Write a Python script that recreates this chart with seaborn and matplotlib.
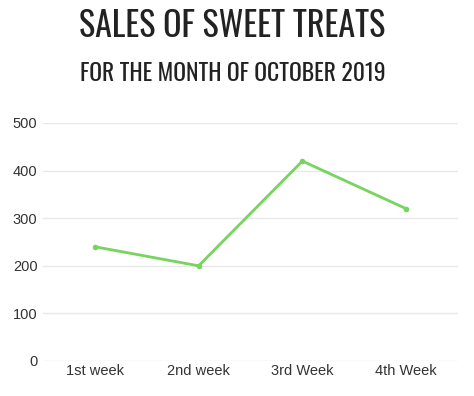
import matplotlib
matplotlib.use("Agg")
import matplotlib.pyplot as plt
import seaborn as sns
import pandas as pd

# datos
semanas = ["1st week", "2nd week", "3rd Week", "4th Week"]
ventas = [240, 200, 420, 320]
ticks_y = [0, 100, 200, 300, 400, 500]

df = pd.DataFrame({"semana": semanas, "ventas": ventas})
df["pos"] = range(len(semanas))

sns.set_theme(style="white")
plt.rcParams["font.family"] = ["Liberation Sans", "DejaVu Sans"]

fig = plt.figure(figsize=(4.74, 3.96), dpi=100)
ax = fig.add_axes([43 / 474, 35 / 396, (458 - 43) / 474, (273 - 35) / 396])

sns.lineplot(data=df, x="pos", y="ventas", ax=ax, color="#77d45c", linewidth=2,
             marker="o", markersize=4, markeredgewidth=0)

ax.set_xlim(-0.5, 3.5)
ax.set_ylim(0, 500)
ax.set_xticks(df["pos"])
ax.set_xticklabels(semanas)
ax.set_yticks(ticks_y)
ax.set_xlabel("")
ax.set_ylabel("")
ax.grid(axis="y", color="#e8e8e8", linewidth=1)
ax.tick_params(axis="both", length=0, labelsize=10.5, colors="#333333")
ax.tick_params(axis="y", pad=4)
ax.tick_params(axis="x", pad=2)
sns.despine(ax=ax, left=True, bottom=True)

fuente_titulo = ["Oswald", "Roboto Condensed", "Liberation Sans Narrow", "DejaVu Sans"]
fig.text(232 / 474, 1 - 36.7 / 396, "SALES OF SWEET TREATS", ha="center", va="baseline",
         fontsize=24.5, color="#222222", family=fuente_titulo, fontstretch="condensed")
fig.text(233 / 474, 1 - 81 / 396, "FOR THE MONTH OF OCTOBER 2019", ha="center", va="baseline",
         fontsize=17, color="#222222", family=fuente_titulo, fontstretch="condensed",
         fontweight="medium")

fig.savefig("out.png", dpi=100, facecolor="white")
